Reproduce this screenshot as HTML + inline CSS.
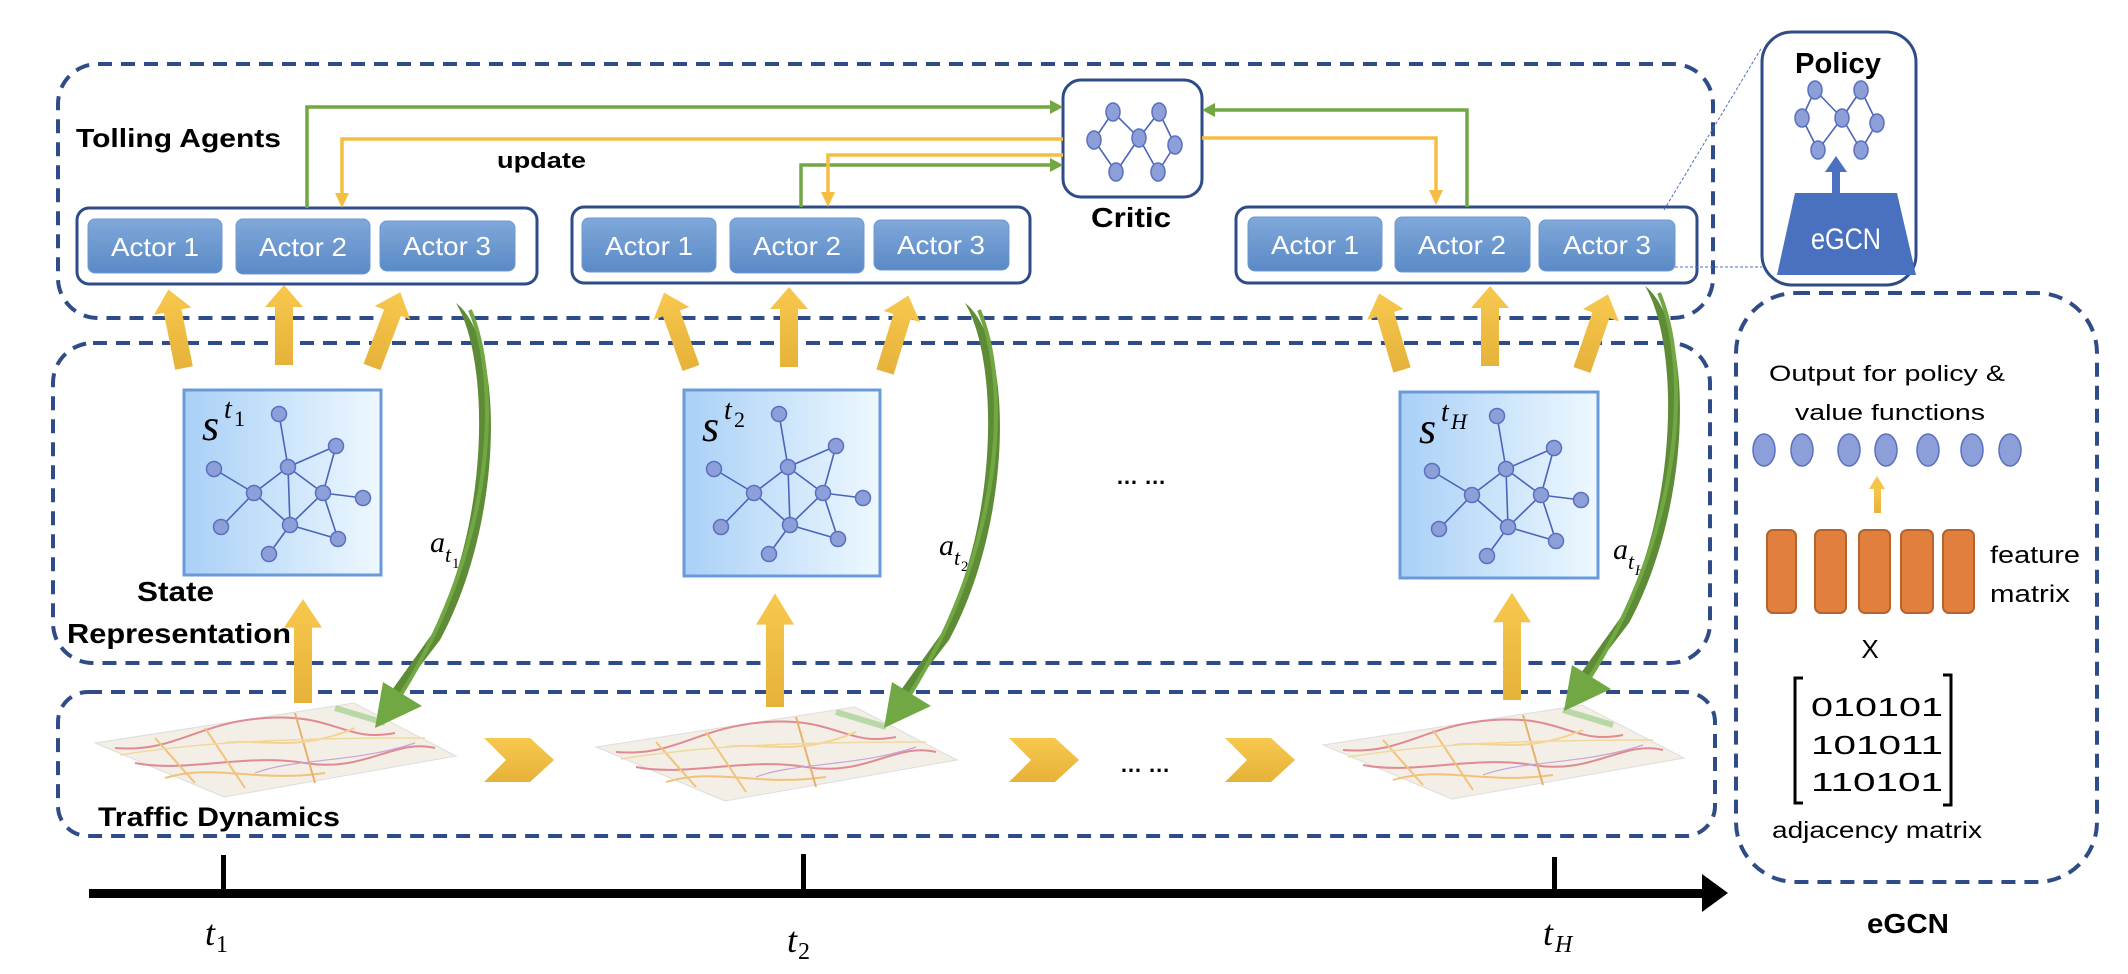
<!DOCTYPE html>
<html><head><meta charset="utf-8"><style>html,body{margin:0;padding:0;background:#fff}svg{display:block}</style></head>
<body>
<svg xmlns="http://www.w3.org/2000/svg" width="2128" height="974" viewBox="0 0 2128 974" font-family="Liberation Sans, sans-serif">
<defs>
<linearGradient id="act" x1="0" y1="0" x2="0" y2="1"><stop offset="0" stop-color="#80A8DA"/><stop offset="1" stop-color="#5A8AC6"/></linearGradient>
<linearGradient id="st" x1="0" y1="0" x2="1" y2="0"><stop offset="0" stop-color="#A9D0F7"/><stop offset="1" stop-color="#EEF8FF"/></linearGradient>
<linearGradient id="ya" x1="0" y1="1" x2="0" y2="0"><stop offset="0" stop-color="#E6B23A"/><stop offset="1" stop-color="#F8C84E"/></linearGradient>
<g id="yarr80"><polygon points="-9,0 9,0 9,-58 19,-58 0,-80 -19,-58 -9,-58" fill="url(#ya)"/></g>
<g id="graph" stroke="#4A64B8" stroke-width="1.6">
<line x1="95" y1="24" x2="104" y2="77"/><line x1="104" y1="77" x2="152" y2="56"/><line x1="152" y1="56" x2="139" y2="103"/>
<line x1="104" y1="77" x2="139" y2="103"/><line x1="104" y1="77" x2="70" y2="103"/><line x1="30" y1="79" x2="70" y2="103"/>
<line x1="70" y1="103" x2="106" y2="135"/><line x1="70" y1="103" x2="37" y2="137"/><line x1="104" y1="77" x2="106" y2="135"/>
<line x1="139" y1="103" x2="106" y2="135"/><line x1="139" y1="103" x2="179" y2="108"/><line x1="139" y1="103" x2="154" y2="149"/>
<line x1="106" y1="135" x2="154" y2="149"/><line x1="106" y1="135" x2="85" y2="164"/>
<g fill="#8C9FD8" stroke="#5A70C0" stroke-width="1.5">
<circle cx="95" cy="24" r="7.5"/><circle cx="152" cy="56" r="7.5"/><circle cx="30" cy="79" r="7.5"/><circle cx="104" cy="77" r="7.5"/>
<circle cx="70" cy="103" r="7.5"/><circle cx="139" cy="103" r="7.5"/><circle cx="179" cy="108" r="7.5"/><circle cx="37" cy="137" r="7.5"/>
<circle cx="106" cy="135" r="7.5"/><circle cx="154" cy="149" r="7.5"/><circle cx="85" cy="164" r="7.5"/></g>
</g>
<g id="gcurve">
<path d="M456 303 C 505 340, 505 520, 440 640 L 398 695 L 392 690 L 432 634 C 490 520, 490 360, 456 303 Z" fill="#5E8C36"/>
<path d="M470 310 C 500 380, 498 540, 400 696" fill="none" stroke="#72A844" stroke-width="4"/>
<polygon points="383,682 422,706 375,728" fill="#72A844"/>
</g>
<g id="map">
<polygon points="0,0 259,-40 361,13 129,54" fill="#F3EFE6" stroke="#DDD" stroke-width="1"/>
<g fill="none" stroke-width="2">
<path d="M20,5 C80,10 100,-20 170,-25 S 250,0 300,-10" stroke="#E08A92"/>
<path d="M40,20 C90,30 150,10 210,20 S 300,-5 340,5" stroke="#E08A92"/>
<path d="M70,35 C120,20 160,40 230,30" stroke="#F2C27A"/>
<path d="M110,-15 L150,45" stroke="#F2C27A"/>
<path d="M200,-30 L220,40" stroke="#E8B070"/>
<path d="M60,-5 L100,40" stroke="#F2C27A"/>
<path d="M130,0 C170,-5 200,10 260,-15" stroke="#F5D28E"/>
<path d="M160,30 C200,15 260,20 320,0" stroke="#C9A4D8" stroke-width="1.2"/>
<path d="M25,12 C100,0 180,-5 330,-5" stroke="#F0D9A0" stroke-width="1.5"/>
<path d="M240,-35 L290,-20" stroke="#B8D8A8" stroke-width="6"/>
</g>
</g>
<polygon id="chev" points="0,0 46,0 70,22 46,44 0,44 22,22" fill="url(#ya)"/>
</defs>

<g fill="none" stroke="#2F4C88" stroke-width="4" stroke-dasharray="14,9">
<rect x="58" y="64" width="1655" height="254" rx="40"/>
<rect x="53" y="343" width="1657" height="320" rx="40"/>
<rect x="58" y="692" width="1657" height="144" rx="30"/>
<rect x="1736" y="293" width="361" height="589" rx="60"/>
</g>

<text x="76" y="147" font-size="26" font-weight="bold" textLength="205" lengthAdjust="spacingAndGlyphs">Tolling Agents</text>

<g stroke="#2F4C88" stroke-width="3" fill="#fff">
<rect x="77" y="208" width="460" height="76" rx="12"/>
<rect x="572" y="207" width="458" height="76" rx="12"/>
<rect x="1236" y="207" width="461" height="76" rx="12"/>
</g>
<g fill="url(#act)" stroke="#6C98D0" stroke-width="1">
<rect x="88" y="219" width="134" height="54" rx="7"/><rect x="236" y="219" width="134" height="55" rx="7"/><rect x="380" y="221" width="135" height="50" rx="7"/>
<rect x="582" y="218" width="134" height="54" rx="7"/><rect x="730" y="218" width="134" height="55" rx="7"/><rect x="874" y="220" width="135" height="50" rx="7"/>
<rect x="1248" y="217" width="134" height="54" rx="7"/><rect x="1395" y="217" width="135" height="55" rx="7"/><rect x="1539" y="220" width="136" height="51" rx="7"/>
</g>
<g fill="#fff" font-size="26" text-anchor="middle">
<text x="155" y="256" textLength="88" lengthAdjust="spacingAndGlyphs">Actor 1</text>
<text x="303" y="256" textLength="88" lengthAdjust="spacingAndGlyphs">Actor 2</text>
<text x="447" y="255" textLength="88" lengthAdjust="spacingAndGlyphs">Actor 3</text>
<text x="649" y="255" textLength="88" lengthAdjust="spacingAndGlyphs">Actor 1</text>
<text x="797" y="255" textLength="88" lengthAdjust="spacingAndGlyphs">Actor 2</text>
<text x="941" y="254" textLength="88" lengthAdjust="spacingAndGlyphs">Actor 3</text>
<text x="1315" y="254" textLength="88" lengthAdjust="spacingAndGlyphs">Actor 1</text>
<text x="1462" y="254" textLength="88" lengthAdjust="spacingAndGlyphs">Actor 2</text>
<text x="1607" y="254" textLength="88" lengthAdjust="spacingAndGlyphs">Actor 3</text>
</g>

<rect x="1063" y="80" width="139" height="117" rx="18" fill="#fff" stroke="#2F4C88" stroke-width="3"/>
<g stroke="#4A64B8" stroke-width="1.6">
<line x1="1113" y1="112" x2="1094" y2="140"/><line x1="1113" y1="112" x2="1139" y2="138"/><line x1="1159" y1="112" x2="1139" y2="138"/><line x1="1159" y1="112" x2="1175" y2="145"/>
<line x1="1094" y1="140" x2="1116" y2="172"/><line x1="1139" y1="138" x2="1116" y2="172"/><line x1="1139" y1="138" x2="1158" y2="172"/><line x1="1175" y1="145" x2="1158" y2="172"/>
</g>
<g fill="#8C9FD8" stroke="#5A70C0" stroke-width="1.5">
<ellipse cx="1113" cy="112" rx="7" ry="9"/><ellipse cx="1159" cy="112" rx="7" ry="9"/><ellipse cx="1094" cy="140" rx="7" ry="9"/><ellipse cx="1139" cy="138" rx="7" ry="9"/><ellipse cx="1175" cy="145" rx="7" ry="9"/><ellipse cx="1116" cy="172" rx="7" ry="9"/><ellipse cx="1158" cy="172" rx="7" ry="9"/>
</g>
<text x="1131" y="227" font-size="28" font-weight="bold" text-anchor="middle" textLength="80" lengthAdjust="spacingAndGlyphs">Critic</text>

<g fill="none" stroke-width="3.5">
<polyline points="307,208 307,107 1050,107" stroke="#72A844"/>
<polyline points="801,207 801,165 1050,165" stroke="#72A844"/>
<polyline points="1467,207 1467,110 1215,110" stroke="#72A844"/>
<polyline points="1063,139 342,139 342,195" stroke="#F5BE42"/>
<polyline points="1063,155 828,155 828,194" stroke="#F5BE42"/>
<polyline points="1202,138 1436,138 1436,192" stroke="#F5BE42"/>
</g>
<polygon points="1050,100 1063,107 1050,114" fill="#72A844"/>
<polygon points="1050,158 1063,165 1050,172" fill="#72A844"/>
<polygon points="1215,103 1202,110 1215,117" fill="#72A844"/>
<polygon points="335,193 349,193 342,208" fill="#F5BE42"/>
<polygon points="821,192 835,192 828,207" fill="#F5BE42"/>
<polygon points="1429,190 1443,190 1436,205" fill="#F5BE42"/>
<text x="497" y="168" font-size="22" font-weight="bold" textLength="89" lengthAdjust="spacingAndGlyphs">update</text>

<line x1="1664" y1="210" x2="1762" y2="47" stroke="#4A6FC0" stroke-width="1" stroke-dasharray="3,2"/>
<line x1="1675" y1="267" x2="1762" y2="267" stroke="#4A6FC0" stroke-width="1" stroke-dasharray="3,2"/>
<rect x="1762" y="32" width="154" height="253" rx="30" fill="#fff" stroke="#2F4C88" stroke-width="3"/>
<text x="1838" y="73" font-size="29" font-weight="bold" text-anchor="middle" textLength="86" lengthAdjust="spacingAndGlyphs">Policy</text>
<g stroke="#4A64B8" stroke-width="1.6">
<line x1="1815" y1="90" x2="1802" y2="118"/><line x1="1815" y1="90" x2="1842" y2="118"/><line x1="1861" y1="90" x2="1842" y2="118"/><line x1="1861" y1="90" x2="1877" y2="123"/>
<line x1="1802" y1="118" x2="1818" y2="150"/><line x1="1842" y1="118" x2="1818" y2="150"/><line x1="1842" y1="118" x2="1861" y2="150"/><line x1="1877" y1="123" x2="1861" y2="150"/>
</g>
<g fill="#8C9FD8" stroke="#5A70C0" stroke-width="1.5">
<ellipse cx="1815" cy="90" rx="7" ry="9"/><ellipse cx="1861" cy="90" rx="7" ry="9"/><ellipse cx="1802" cy="118" rx="7" ry="9"/><ellipse cx="1842" cy="118" rx="7" ry="9"/><ellipse cx="1877" cy="123" rx="7" ry="9"/><ellipse cx="1818" cy="150" rx="7" ry="9"/><ellipse cx="1861" cy="150" rx="7" ry="9"/>
</g>
<rect x="1832" y="170" width="8" height="24" fill="#4A70C0"/>
<polygon points="1825,172 1836,156 1847,172" fill="#4A70C0"/>
<polygon points="1795,193 1897,193 1916,275 1777,275" fill="#4A70C0"/>
<text x="1846" y="249" font-size="30" fill="#fff" text-anchor="middle" textLength="70" lengthAdjust="spacingAndGlyphs">eGCN</text>

<use href="#yarr80" transform="translate(184,368) rotate(-11.3)"/>
<use href="#yarr80" transform="translate(284,365)"/>
<use href="#yarr80" transform="translate(372,367) rotate(20.7)"/>
<use href="#yarr80" transform="translate(691,368) rotate(-19.7)"/>
<use href="#yarr80" transform="translate(789,367)"/>
<use href="#yarr80" transform="translate(885,372) rotate(17)"/>
<use href="#yarr80" transform="translate(1402,370) rotate(-16.6)"/>
<use href="#yarr80" transform="translate(1490,366)"/>
<use href="#yarr80" transform="translate(1582,370) rotate(19)"/>

<g>
<rect x="184" y="390" width="197" height="185" fill="url(#st)" stroke="#6A9BD8" stroke-width="3"/>
<use href="#graph" transform="translate(184,390)"/>
<text x="202" y="440" font-family="Liberation Serif, serif" font-style="italic" font-size="44">s</text>
<text x="224" y="418" font-family="Liberation Serif, serif" font-style="italic" font-size="28">t</text>
<text x="234" y="426" font-family="Liberation Serif, serif" font-size="22">1</text>
</g>
<g>
<rect x="684" y="390" width="196" height="186" fill="url(#st)" stroke="#6A9BD8" stroke-width="3"/>
<use href="#graph" transform="translate(684,390)"/>
<text x="702" y="441" font-family="Liberation Serif, serif" font-style="italic" font-size="44">s</text>
<text x="724" y="419" font-family="Liberation Serif, serif" font-style="italic" font-size="28">t</text>
<text x="734" y="427" font-family="Liberation Serif, serif" font-size="22">2</text>
</g>
<g>
<rect x="1400" y="392" width="198" height="186" fill="url(#st)" stroke="#6A9BD8" stroke-width="3"/>
<use href="#graph" transform="translate(1402,392)"/>
<text x="1419" y="443" font-family="Liberation Serif, serif" font-style="italic" font-size="44">s</text>
<text x="1441" y="421" font-family="Liberation Serif, serif" font-style="italic" font-size="28">t</text>
<text x="1451" y="429" font-family="Liberation Serif, serif" font-style="italic" font-size="22">H</text>
</g>
<text x="1116" y="484" font-size="22" font-weight="bold">… …</text>

<g font-family="Liberation Serif, serif" font-style="italic">
<text x="430" y="552" font-size="30">a</text><text x="445" y="562" font-size="22">t</text><text x="452" y="568" font-size="15" font-style="normal">1</text>
<text x="939" y="555" font-size="30">a</text><text x="954" y="565" font-size="22">t</text><text x="961" y="571" font-size="15" font-style="normal">2</text>
<text x="1613" y="559" font-size="30">a</text><text x="1628" y="569" font-size="22">t</text><text x="1635" y="575" font-size="15">H</text>
</g>

<text x="137" y="601" font-size="28" font-weight="bold" textLength="77" lengthAdjust="spacingAndGlyphs">State</text>
<text x="67" y="643" font-size="28" font-weight="bold" textLength="224" lengthAdjust="spacingAndGlyphs">Representation</text>

<use href="#map" transform="translate(95,743)"/>
<use href="#map" transform="translate(596,747)"/>
<use href="#map" transform="translate(1323,745)"/>

<use href="#yarr80" transform="translate(303,703) scale(1,1.3)"/>
<use href="#yarr80" transform="translate(775,707) scale(1,1.42)"/>
<use href="#yarr80" transform="translate(1512,700) scale(1,1.34)"/>

<use href="#gcurve"/>
<use href="#gcurve" transform="translate(509,0)"/>
<use href="#gcurve" transform="translate(1189,-17)"/>

<use href="#chev" transform="translate(484,738)"/>
<use href="#chev" transform="translate(1009,738)"/>
<use href="#chev" transform="translate(1225,738)"/>
<text x="1120" y="772" font-size="22" font-weight="bold">… …</text>

<text x="98" y="826" font-size="27" font-weight="bold" textLength="242" lengthAdjust="spacingAndGlyphs">Traffic Dynamics</text>

<rect x="89" y="889" width="1616" height="9" fill="#000"/>
<polygon points="1702,874 1728,893 1702,912" fill="#000"/>
<rect x="221" y="855" width="5" height="36" fill="#000"/>
<rect x="801" y="854" width="5" height="36" fill="#000"/>
<rect x="1552" y="857" width="5" height="34" fill="#000"/>
<g font-family="Liberation Serif, serif" font-style="italic">
<text x="205" y="945" font-size="36">t</text><text x="216" y="952" font-size="24" font-style="normal">1</text>
<text x="787" y="952" font-size="36">t</text><text x="798" y="959" font-size="24" font-style="normal">2</text>
<text x="1543" y="945" font-size="36">t</text><text x="1555" y="952" font-size="24">H</text>
</g>
<text x="1908" y="933" font-size="28" font-weight="bold" text-anchor="middle" textLength="82" lengthAdjust="spacingAndGlyphs">eGCN</text>

<text x="1769" y="381" font-size="22" textLength="236" lengthAdjust="spacingAndGlyphs">Output for policy &amp;</text>
<text x="1795" y="420" font-size="22" textLength="190" lengthAdjust="spacingAndGlyphs">value functions</text>
<g fill="#8C9FD8" stroke="#5A70C0" stroke-width="1.5">
<ellipse cx="1764" cy="450" rx="11" ry="16"/><ellipse cx="1802" cy="450" rx="11" ry="16"/><ellipse cx="1849" cy="450" rx="11" ry="16"/><ellipse cx="1886" cy="450" rx="11" ry="16"/><ellipse cx="1928" cy="450" rx="11" ry="16"/><ellipse cx="1972" cy="450" rx="11" ry="16"/><ellipse cx="2010" cy="450" rx="11" ry="16"/>
</g>
<rect x="1874" y="487" width="7" height="26" fill="url(#ya)"/>
<polygon points="1869,489 1877,476 1885,489" fill="#F6C448"/>
<g fill="#E07F3E" stroke="#B8622C" stroke-width="2">
<rect x="1767" y="530" width="29" height="83" rx="6"/><rect x="1815" y="530" width="31" height="83" rx="6"/><rect x="1859" y="530" width="31" height="83" rx="6"/><rect x="1901" y="530" width="32" height="83" rx="6"/><rect x="1943" y="530" width="31" height="83" rx="6"/>
</g>
<text x="1990" y="563" font-size="24" textLength="90" lengthAdjust="spacingAndGlyphs">feature</text>
<text x="1990" y="602" font-size="24" textLength="80" lengthAdjust="spacingAndGlyphs">matrix</text>
<text x="1870" y="658" font-size="26" text-anchor="middle">X</text>
<g fill="none" stroke="#000" stroke-width="3">
<polyline points="1803,678 1795,678 1795,803 1803,803"/>
<polyline points="1943,675 1951,675 1951,805 1943,805"/>
</g>
<g font-size="26" text-anchor="middle">
<text x="1877" y="716" textLength="132" lengthAdjust="spacingAndGlyphs">010101</text>
<text x="1877" y="754" textLength="132" lengthAdjust="spacingAndGlyphs">101011</text>
<text x="1877" y="791" textLength="132" lengthAdjust="spacingAndGlyphs">110101</text>
</g>
<text x="1772" y="838" font-size="23" textLength="210" lengthAdjust="spacingAndGlyphs">adjacency matrix</text>
</svg>
</body></html>
